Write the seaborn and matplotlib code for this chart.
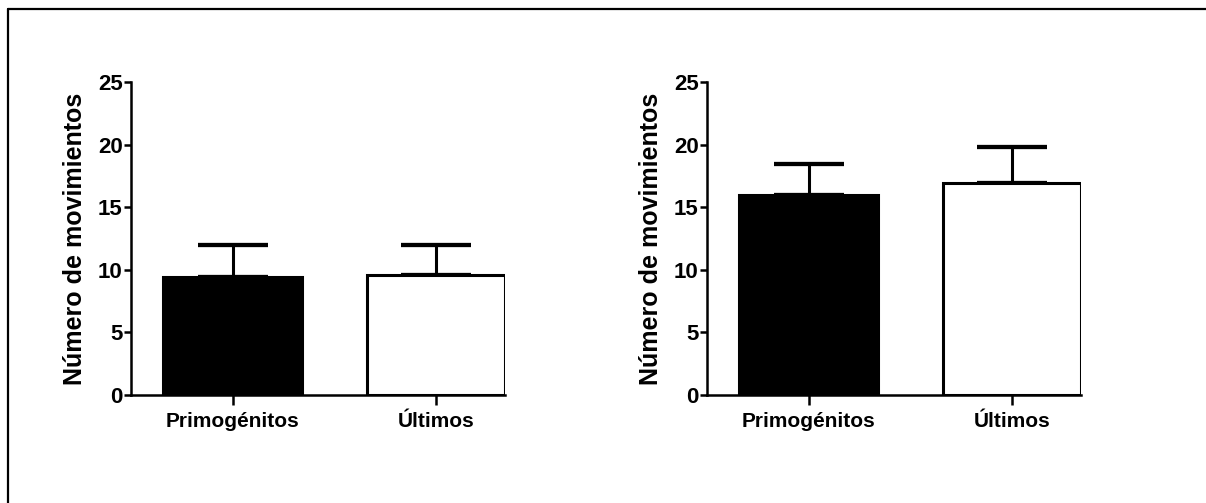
"""Número de movimientos: primogénitos vs últimos, two panels."""
import matplotlib
matplotlib.use("Agg")
import matplotlib.pyplot as plt
import pandas as pd
import seaborn as sns
from matplotlib.lines import Line2D

groups = ["Primogénitos", "Últimos"]
left_means = [9.4, 9.6]
left_sem = [2.6, 2.4]
right_means = [16.0, 16.9]
right_sem = [2.45, 2.9]
y_ticks = [0, 5, 10, 15, 20, 25]
bar_colors = ["black", "white"]
ylabel = "Número de movimientos"

sns.set_style("ticks", {
    "axes.edgecolor": "black", "text.color": "black",
    "xtick.color": "black", "ytick.color": "black",
    "axes.labelcolor": "black",
})
plt.rcParams["font.family"] = ["Liberation Sans", "DejaVu Sans"]
plt.rcParams["font.weight"] = "bold"

fig = plt.figure(figsize=(12.06, 5.03), dpi=100)
ax_l = fig.add_axes([0.1086, 0.2147, 0.310, 0.6223])
ax_r = fig.add_axes([0.5862, 0.2147, 0.310, 0.6223])

LW = 2.2


def draw_panel(ax, means, sem):
    df = pd.DataFrame({"grupo": groups, "valor": means})
    sns.barplot(
        data=df, x="grupo", y="valor", hue="grupo", order=groups,
        palette=dict(zip(groups, bar_colors)), errorbar=None,
        width=0.68, edgecolor="black", linewidth=LW, legend=False,
        saturation=1, ax=ax, zorder=3,
    )
    ax.errorbar(
        range(len(groups)), means, yerr=[[0] * len(sem), sem],
        fmt="none", ecolor="black", elinewidth=LW, capsize=25,
        capthick=LW * 1.4, zorder=2,
    )
    ax.set_ylim(0, 25)
    ax.set_xlim(-0.5, 1.34)
    ax.set_yticks(y_ticks)
    ax.set_xlabel("")
    ax.set_ylabel(ylabel, fontsize=18, fontweight="bold", color="black")
    ax.yaxis.set_label_coords(-0.118, 0.5)
    sns.despine(ax=ax)
    for s in ("left", "bottom"):
        ax.spines[s].set_linewidth(1.8)
        ax.spines[s].set_color("black")
    ax.tick_params(axis="y", length=5, width=1.8, pad=1, labelsize=16,
                   colors="black")
    ax.tick_params(axis="x", length=7, width=1.8, pad=5, labelsize=15,
                   colors="black")
    for lab in ax.get_xticklabels() + ax.get_yticklabels():
        lab.set_fontweight("bold")


draw_panel(ax_l, left_means, left_sem)
draw_panel(ax_r, right_means, right_sem)

# outer frame (left and top edges only visible)
fig.add_artist(Line2D([8 / 1206, 8 / 1206], [0, 1 - 9 / 503],
                      transform=fig.transFigure, color="black", lw=1.6))
fig.add_artist(Line2D([8 / 1206, 1], [1 - 9 / 503, 1 - 9 / 503],
                      transform=fig.transFigure, color="black", lw=1.6))

fig.savefig("out.png", dpi=100)
